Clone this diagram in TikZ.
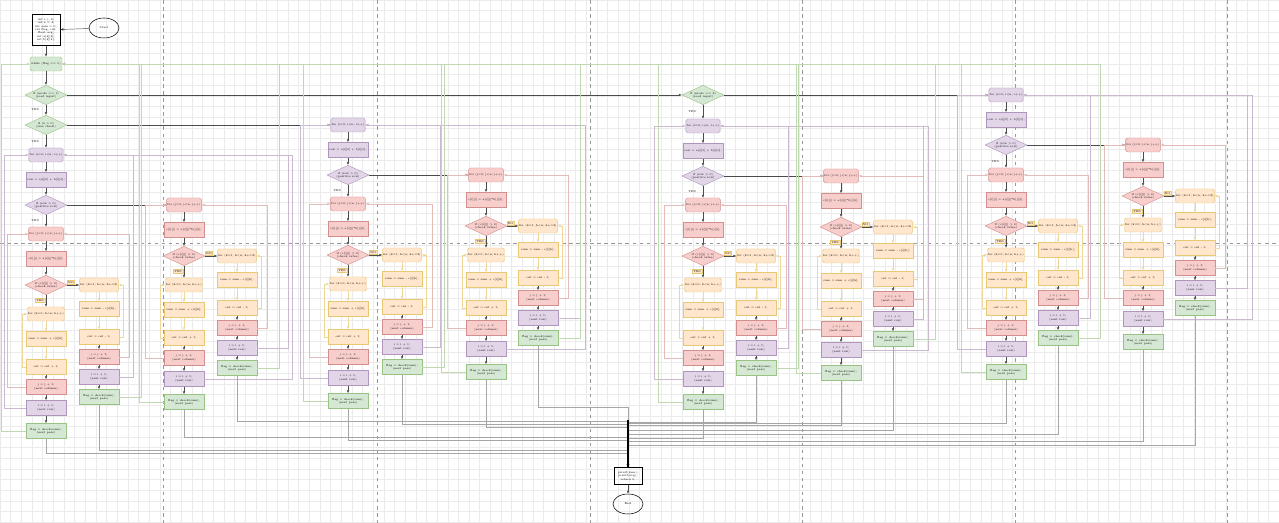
\documentclass[tikz,border=0pt]{standalone}
\usepackage{tikz}
\usetikzlibrary{arrows.meta,shapes.geometric}
\definecolor{gfill}{HTML}{D5E8D4}
\definecolor{gline}{HTML}{82B366}
\definecolor{pfill}{HTML}{E1D5E7}
\definecolor{pline}{HTML}{9673A6}
\definecolor{rfill}{HTML}{F8CECC}
\definecolor{rline}{HTML}{B85450}
\definecolor{ofill}{HTML}{FFE6CC}
\definecolor{oline}{HTML}{D79B00}
\tikzset{
  txt/.style={font=\fontsize{1.6}{1.9}\selectfont},
  box/.style={draw, txt, align=center, inner sep=0.4pt, line width=0.25pt},
  hdr/.style={box, rounded corners=1pt, minimum width=0.6cm, minimum height=0.28cm},
  wide/.style={box, minimum width=0.8cm, minimum height=0.3cm},
  cond/.style={box, diamond, aspect=2.2, minimum width=0.84cm, minimum height=0.39cm, inner sep=0pt},
  gnode/.style={fill=gfill, draw=gline!80},
  pnode/.style={fill=pfill, draw=pline!75},
  rnode/.style={fill=rfill, draw=rline!65},
  onode/.style={fill=ofill, draw=oline!55},
  arr/.style={-{Latex[length=1.7pt,width=1.5pt]}, line width=0.25pt, draw=black!70},
  otip/.style={arr, draw=oline!40},
  rloop/.style={arr, draw=rline!40},
  ploop/.style={arr, draw=pline!50},
  gloop/.style={arr, draw=gline!50},
  bus/.style={arr, draw=black!35, line width=0.45pt},
  tag/.style={txt, onode, inner sep=0.5pt},
  gridl/.style={black!8, line width=0.25pt},
  guide/.style={black!40, line width=0.3pt, dash pattern=on 2pt off 2pt},
}
% purple loop head: id, x, y
\newcommand{\purpletop}[3]{%
  \node[hdr,pnode] (#1h) at (#2,#3) {for (i=0; i<n; i++)};
  \node[wide,pnode] (#1i) at (#2,{#3+25}) {row = a[i][0] + b[i][0];};
  \node[cond,pnode] (#1d) at (#2,{#3+50}) {if (row > 0)\\(positive row)};
  \draw[arr] (#1h) -- (#1i);
  \draw[arr] (#1i) -- (#1d);}
% red loop head: id, x, y
\newcommand{\redtop}[3]{%
  \node[hdr,rnode] (#1h) at (#2,#3) {for (j=0; j<n; j++)};
  \node[wide,rnode] (#1i) at (#2,{#3+25}) {c[i][j] = a[i][j]*b[j][i];};
  \node[cond,rnode] (#1d) at (#2,{#3+51}) {if (c[i][j] > 0)\\(check value)};
  \draw[arr] (#1h) -- (#1i);
  \draw[arr] (#1i) -- (#1d);}
% YES branch: id, x, diamond y, diamond
\newcommand{\mainrun}[4]{%
  \node[hdr,onode] (#1a) at (#2,{#3+29}) {for (k=0; k<n; k++)};
  \node[wide,onode] (#1b) at (#2,{#3+54}) {sum = sum + c[i][k];};
  \node[wide,onode] (#1c) at (#2,{#3+82}) {cnt = cnt + 1;};
  \node[wide,rnode] (#1r) at (#2,{#3+102}) {j = j + 1;\\(next column)};
  \node[wide,pnode] (#1p) at (#2,{#3+123}) {i = i + 1;\\(next row)};
  \node[wide,gnode] (#1g) at (#2,{#3+146}) {flag = check(sum);\\(next pass)};
  \draw[arr] (#4) -- node[tag,left=0.6pt,pos=0.45] {YES} (#1a);
  \draw[otip] (#1a) -- (#1b);
  \draw[otip] (#1b) -- (#1c);
  \draw[arr] (#1c) -- (#1r);
  \draw[arr] (#1r) -- (#1p);
  \draw[arr] (#1p) -- (#1g);
  \draw[otip] (#1c.west) -- ++(-4,0) |- (#1a.west);}
% NO branch: id, x, diamond y, diamond
\newcommand{\siderun}[4]{%
  \node[hdr,onode] (#1a) at (#2,#3) {for (k=1; k<n; k+=2)};
  \node[wide,onode] (#1b) at (#2,{#3+24}) {sum = sum - c[i][k];};
  \node[wide,onode] (#1c) at (#2,{#3+52}) {cnt = cnt - 1;};
  \node[wide,rnode] (#1r) at (#2,{#3+72}) {j = j + 1;\\(next column)};
  \node[wide,pnode] (#1p) at (#2,{#3+92}) {i = i + 1;\\(next row)};
  \node[wide,gnode] (#1g) at (#2,{#3+112}) {flag = check(sum);\\(next pass)};
  \draw[arr] (#4.east) -- node[tag,above=0.4pt,pos=0.3] {NO} (#1a.west);
  \draw[otip] (#1a) -- (#1b);
  \draw[otip] (#1b) -- (#1c);
  \draw[arr] (#1c) -- (#1r);
  \draw[arr] (#1r) -- (#1p);
  \draw[arr] (#1p) -- (#1g);
  \draw[otip] (#1c.east) -- ++(4,0) |- (#1a.east);}

\begin{document}
\begin{tikzpicture}[x=0.02cm, y=-0.02cm]
  \useasboundingbox (0,0) rectangle (1279,523);
  \fill[white] (0,0) rectangle (1279,523);
  % grid and swimlane guides
  \foreach \k in {0,...,120}{\draw[gridl] ({\k*10.66},0) -- ({\k*10.66},523);}
  \foreach \k in {0,...,49}{\draw[gridl] (0,{\k*10.66}) -- (1279,{\k*10.66});}
  \foreach \gx in {163,377,590,802,1015,1227}{\draw[guide] (\gx,0) -- (\gx,523);}
  \draw[guide] (0,243) -- (1279,243);

  % start
  \node[box, line width=0.4pt, minimum width=0.56cm, minimum height=0.62cm] (init) at (46,30)
    {int i, j, k;\\int n = 4;\\int sum = 0;\\int flag, cnt;\\float avg;\\int a[4][4];\\int b[4][4];};
  \node[draw, ellipse, txt, minimum width=0.6cm, minimum height=0.4cm, line width=0.3pt] (start) at (104,28) {Start};
  \draw[arr] (start) -- (init);
  \node[hdr,gnode,minimum width=0.64cm] (gA) at (46,64) {while (flag == 0)};
  \node[cond,gnode] (gd1) at (46,95) {if (mode == 1)\\(read input)};
  \node[cond,gnode] (gd2) at (46,125) {if (n > 0)\\(size check)};
  \draw[arr] (init) -- (gA);
  \draw[arr] (gA) -- (gd1);
  \draw[arr] (gd1) -- node[txt,left=0.6pt] {YES} (gd2);

  % block A
  \purpletop{pA}{46}{155}
  \draw[arr] (gd2) -- node[txt,left=0.6pt] {YES} (pAh);
  \redtop{rA}{46}{234}
  \draw[arr] (pAd) -- node[txt,left=0.6pt] {YES} (rAh);
  \mainrun{mA}{46}{285}{rAd}
  \siderun{sA}{99}{285}{rAd}

  % block B
  \redtop{rB}{184}{205}
  \draw[arr] (pAd.east) -- (rBh.west);
  \mainrun{mB}{184}{256}{rBd}
  \siderun{sB}{237}{256}{rBd}

  % block C
  \purpletop{pC}{348}{125}
  \draw[arr] (gd2.east) -- (pCh.west);
  \redtop{rC}{348}{204}
  \draw[arr] (pCd) -- node[txt,left=0.6pt] {YES} (rCh);
  \mainrun{mC}{348}{255}{rCd}
  \siderun{sC}{402}{255}{rCd}

  % block D
  \redtop{rD}{486}{175}
  \draw[arr] (pCd.east) -- (rDh.west);
  \mainrun{mD}{486}{226}{rDd}
  \siderun{sD}{538}{226}{rDd}

  % block E
  \node[cond,gnode] (gdE) at (703,95) {if (mode == 2)\\(read input)};
  \draw[arr] (gd1.east) -- (gdE.west);
  \purpletop{pE}{703}{126}
  \draw[arr] (gdE) -- node[txt,left=0.6pt] {YES} (pEh);
  \redtop{rE}{703}{205}
  \draw[arr] (pEd) -- node[txt,left=0.6pt] {YES} (rEh);
  \mainrun{mE}{703}{256}{rEd}
  \siderun{sE}{756}{256}{rEd}

  % block F
  \redtop{rF}{841}{176}
  \draw[arr] (pEd.east) -- (rFh.west);
  \mainrun{mF}{841}{227}{rFd}
  \siderun{sF}{893}{227}{rFd}

  % block G
  \purpletop{pG}{1006}{95}
  \draw[arr] (gdE.east) -- (pGh.west);
  \redtop{rG}{1006}{175}
  \draw[arr] (pGd) -- node[txt,left=0.6pt] {YES} (rGh);
  \mainrun{mG}{1006}{226}{rGd}
  \siderun{sG}{1058}{226}{rGd}

  % block H
  \redtop{rH}{1143}{145}
  \draw[arr] (pGd.east) -- (rHh.west);
  \mainrun{mH}{1143}{196}{rHd}
  \siderun{sH}{1195}{196}{rHd}

  % end
  \node[box, line width=0.4pt, minimum width=0.56cm, minimum height=0.34cm] (out) at (628,476)
    {printf(sum);\\printf(avg);\\return 0;};
  \node[draw, ellipse, txt, minimum width=0.6cm, minimum height=0.4cm, line width=0.3pt] (stop) at (628,504) {End};
  \draw[arr] (out) -- (stop);

  % loop backs
  \foreach \b in {A,B,C,D,E,F,G,H}{
    \draw[rloop] (m\b r.west) -- ++(-19,0) |- (r\b h.west);
    \draw[rloop] (s\b r.east) -- ++(10,0) |- (r\b h.east);}
  \foreach \src/\dst/\sd/\dx in {mAp/pAh/west/-22, sAp/pAh/east/14,
      mBp/pAh/east/88, sBp/pAh/east/31, mCp/pCh/west/-28, sCp/pCh/east/18,
      mDp/pCh/east/79, sDp/pCh/east/22, mEp/pEh/west/-29, sEp/pEh/east/12,
      mFp/pEh/east/67, sFp/pEh/east/10, mGp/pGh/west/-29, sGp/pGh/east/12,
      mHp/pGh/east/89, sHp/pGh/east/32}{
    \draw[ploop] (\src.\sd) -- ++(\dx,0) |- (\dst.\sd);}
  \foreach \src/\sd/\dx/\dsd in {mAg/west/-25/west, sAg/east/22/east,
      mBg/west/-25/east, sBg/east/22/east, mCg/west/-25/east, sCg/east/22/east,
      mDg/west/-25/east, sDg/east/22/east, mEg/west/-25/east, sEg/east/22/east,
      mFg/west/-25/east, sFg/east/22/east, mGg/west/-25/east, sGg/east/22/east}{
    \draw[gloop] (\src.\sd) -- ++(\dx,0) |- (gA.\dsd);}

  % exits to the end box
  \foreach \src/\yy in {mAg/453, sAg/450, mBg/437, sBg/421, mCg/440, sCg/424,
      mDg/427, sDg/407, mEg/438, sEg/422, mFg/425, sFg/430, mGg/423, sGg/434,
      mHg/441, sHg/445}{
    \draw[bus] (\src.south) -- (\src.south |- 0,\yy) -| (out.north);}
  \coordinate (bustop) at (628,420);
  \draw[line width=1.2pt] (bustop) -- (out.north);
\end{tikzpicture}
\end{document}
